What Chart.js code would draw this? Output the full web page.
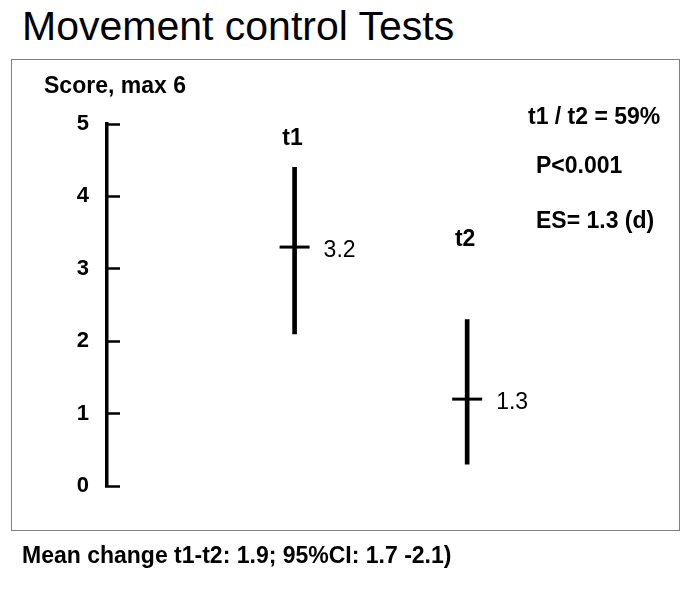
<!DOCTYPE html>
<html>
<head>
<meta charset="utf-8">
<script src="https://cdn.jsdelivr.net/npm/chart.js@4.4.1/dist/chart.umd.min.js"></script>
<style>
  body { margin: 0; background: #fff; font-family: "Liberation Sans", Arial, sans-serif; color: #000; }
  #page { position: relative; width: 685px; height: 590px; overflow: hidden; }
  #title { position: absolute; left: 22px; top: 6px; font-size: 41px; line-height: 1; white-space: nowrap; }
  #box { position: absolute; left: 11px; top: 59px; width: 667px; height: 470px; border: 1px solid #808080; }
  .note { position: absolute; font-size: 23px; font-weight: bold; line-height: 1; white-space: nowrap; }
  #chart { position: absolute; left: 0; top: 0; }
</style>
</head>
<body>
<div id="page">
  <div id="title">Movement control Tests</div>
  <div id="box"></div>
  <canvas id="chart" width="685" height="590"></canvas>
  <div class="note" style="left:44px; top:74px;">Score, max 6</div>
  <div class="note" style="left:528px; top:105px;">t1 / t2 = 59%</div>
  <div class="note" style="left:536px; top:154px;">P&lt;0.001</div>
  <div class="note" style="left:536px; top:209px;">ES= 1.3 (d)</div>
  <div class="note" style="left:22px; top:544px;">Mean change t1-t2: 1.9; 95%CI: 1.7 -2.1)</div>
</div>
<script>
// measurement times
const groups = ["t1", "t2"];
// mean score as plotted, and its printed label
const means = [3.3, 1.2];
const meanLabels = ["3.2", "1.3"];
// interval ends
const lower = [2.1, 0.3];
const upper = [4.4, 2.3];

// label placement (pixels above the top of each interval)
const tagLift = [29, 80];

const FONT = '"Liberation Sans", Arial, sans-serif';

const labelPlugin = {
  id: "labels",
  afterDatasetsDraw(chart) {
    const { ctx, scales } = chart;
    ctx.save();
    ctx.fillStyle = "#000";
    ctx.textBaseline = "middle";
    groups.forEach((g, i) => {
      const px = scales.x.getPixelForValue(i + 1);
      ctx.font = "bold 23px " + FONT;
      ctx.textAlign = "center";
      ctx.fillText(g, px - 2, scales.y.getPixelForValue(upper[i]) - tagLift[i]);
      ctx.font = "23px " + FONT;
      ctx.textAlign = "left";
      ctx.fillText(meanLabels[i], px + 29, scales.y.getPixelForValue(means[i]) + 4);
    });
    ctx.restore();
  },
};

const ctx = document.getElementById("chart").getContext("2d");

const chart = new Chart(ctx, {
  type: "bar",
  data: {
    datasets: [
      {
        type: "line",
        label: "mean",
        data: groups.map((g, i) => ({ x: i + 1, y: means[i] })),
        showLine: false,
        pointStyle: "line",
        pointRadius: 15,
        pointBorderWidth: 3,
        borderColor: "#000",
        backgroundColor: "#000",
        order: 0,
      },
      {
        label: "interval",
        data: groups.map((g, i) => ({ x: i + 1, y: [lower[i], upper[i]] })),
        backgroundColor: "#000",
        barThickness: 4,
        order: 1,
      },
    ],
  },
  options: {
    responsive: false,
    animation: false,
    layout: {
      padding: { left: 0, right: 10, top: 124, bottom: 104 },
    },
    plugins: {
      legend: { display: false },
      tooltip: { enabled: false },
      title: { display: false },
    },
    scales: {
      x: {
        type: "linear",
        display: false,
        offset: false,
        min: -0.087,
        max: 3.158,
      },
      y: {
        min: 0,
        max: 5,
        afterFit: (s) => {
          s.width = 107;
        },
        ticks: {
          stepSize: 1,
          color: "#000",
          padding: 31,
          font: { family: FONT, size: 22, weight: "bold" },
        },
        grid: {
          drawOnChartArea: false,
          tickLength: -13,
          tickWidth: 2.5,
          tickColor: "#000",
        },
        border: { color: "#000", width: 3.5 },
      },
    },
  },
  plugins: [labelPlugin],
});
</script>
</body>
</html>
